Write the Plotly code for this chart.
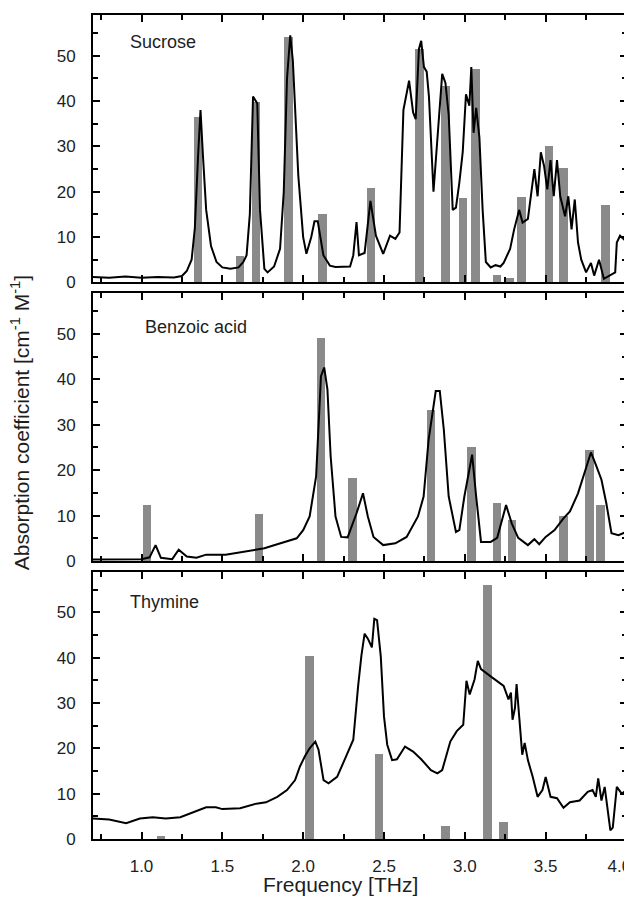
import plotly.graph_objects as go

# ---------------- data ----------------
sucrose_x = [0.70, 0.80, 0.90, 1.00, 1.10, 1.20, 1.25, 1.28, 1.31, 1.33, 1.35, 1.365, 1.38, 1.40, 1.43, 1.464,
             1.50, 1.55, 1.60, 1.63, 1.65, 1.67, 1.69, 1.716, 1.733, 1.76, 1.78, 1.82, 1.857, 1.88, 1.90, 1.92,
             1.936, 1.97, 2.00, 2.02, 2.05, 2.07, 2.09, 2.125, 2.165, 2.20, 2.29, 2.31, 2.33, 2.345, 2.38, 2.416,
             2.45, 2.495, 2.537, 2.57, 2.596, 2.62, 2.655, 2.68, 2.696, 2.716, 2.73, 2.747, 2.764, 2.778, 2.806,
             2.83, 2.86, 2.88, 2.90, 2.925, 2.945, 2.966, 2.987, 3.007, 3.028, 3.04, 3.054, 3.07, 3.09, 3.11,
             3.13, 3.16, 3.19, 3.22, 3.24, 3.28, 3.305, 3.336, 3.357, 3.39, 3.43, 3.45, 3.47, 3.49, 3.51, 3.53,
             3.55, 3.57, 3.59, 3.62, 3.64, 3.66, 3.68, 3.70, 3.72, 3.75, 3.78, 3.80, 3.83, 3.86, 3.90, 3.93,
             3.94, 3.96, 4.00]
sucrose_y = [1.2, 1.0, 1.3, 1.0, 1.2, 1.1, 1.4, 2.5, 5, 12, 28, 38, 28, 16, 8, 4.5,
             3.3, 3, 3.3, 4.5, 6, 15, 41, 39.5, 16, 3, 2.2, 3.5, 7.4, 20, 45, 54.5,
             49, 23.5, 10, 6.3, 10, 13.5, 13.5, 6, 3.7, 3.4, 3.5, 6, 13.3, 6, 6.5, 18,
             10.3, 6.3, 10.3, 9.6, 11, 38, 44.5, 37.5, 36, 51.5, 53.3, 47.5, 46.5, 41, 20,
             31, 46, 44, 37, 16, 16.5, 22, 28.8, 41.5, 39, 47.5, 33, 38.5, 32, 16,
             4.5, 3.3, 3.8, 3.5, 4.3, 7.4, 11.7, 16, 13.2, 14, 25, 19, 28.7, 25.7, 20.5, 27,
             19, 27, 19, 14.6, 19, 11.7, 18.3, 8.8, 5, 2.2, 4.3, 1.5, 5, 0.8, 1.5, 2.2,
             8.8, 10.3, 9]
sucrose_bar_x = [1.35, 1.61, 1.71, 1.91, 2.12, 2.42, 2.72, 2.88, 2.99, 3.065, 3.20, 3.28, 3.35, 3.52, 3.61, 3.87]
sucrose_bar_y = [36.5, 5.8, 39.8, 54.2, 15, 20.8, 51.4, 43.4, 18.6, 47, 1.6, 1.0, 18.8, 30, 25.2, 17]

benzoic_x = [0.70, 0.90, 1.00, 1.05, 1.087, 1.12, 1.19, 1.23, 1.28, 1.34, 1.40, 1.52, 1.65, 1.76, 1.86, 1.96,
             2.00, 2.04, 2.08, 2.10, 2.11, 2.13, 2.15, 2.17, 2.20, 2.235, 2.275, 2.33, 2.37, 2.40, 2.435, 2.495,
             2.57, 2.64, 2.71, 2.745, 2.776, 2.82, 2.845, 2.87, 2.90, 2.945, 2.966, 2.997, 3.045, 3.07, 3.10,
             3.16, 3.20, 3.255, 3.29, 3.33, 3.39, 3.43, 3.46, 3.50, 3.555, 3.61, 3.65, 3.70, 3.745, 3.78, 3.81,
             3.845, 3.875, 3.907, 3.95, 4.00]
benzoic_y = [0.3, 0.3, 0.4, 0.8, 3.5, 0.7, 0.4, 2.5, 1.0, 0.7, 1.4, 1.4, 2.1, 2.8, 3.9, 5,
             6.8, 9.8, 18.6, 32, 40.7, 42.6, 37.8, 23, 9.8, 5.3, 5.2, 10.5, 14.9, 9.8, 5.3, 3.5,
             3.9, 5.3, 9.8, 14.2, 26.7, 37.4, 37.4, 28.9, 14.2, 6.4, 6.8, 14.2, 23.4, 14.2, 4.2,
             4.2, 5.1, 12.3, 8.3, 5.1, 3.5, 4.8, 3.7, 5.3, 6.8, 9.4, 10.9, 14.9, 19.7, 23.9, 21.2,
             17.9, 12.7, 6.1, 5.7, 6.4]
benzoic_bar_x = [1.035, 1.725, 2.11, 2.305, 2.79, 3.04, 3.20, 3.29, 3.61, 3.77, 3.84]
benzoic_bar_y = [12.3, 10.4, 49.2, 18.3, 33.2, 25.1, 12.7, 9.0, 9.8, 24.5, 12.3]

thymine_x = [0.70, 0.80, 0.905, 0.99, 1.07, 1.15, 1.24, 1.32, 1.40, 1.46, 1.50, 1.61, 1.71, 1.77, 1.84, 1.90,
             1.95, 1.98, 2.01, 2.04, 2.075, 2.095, 2.126, 2.157, 2.21, 2.26, 2.31, 2.34, 2.36, 2.38, 2.40,
             2.425, 2.44, 2.457, 2.48, 2.50, 2.52, 2.55, 2.58, 2.63, 2.68, 2.73, 2.79, 2.83, 2.86, 2.91, 2.95,
             2.99, 3.01, 3.03, 3.06, 3.08, 3.10, 3.17, 3.20, 3.24, 3.27, 3.285, 3.295, 3.31, 3.32, 3.34, 3.355,
             3.37, 3.39, 3.42, 3.45, 3.48, 3.50, 3.53, 3.57, 3.61, 3.65, 3.71, 3.76, 3.79, 3.81, 3.825, 3.845,
             3.865, 3.886, 3.90, 3.915, 3.94, 3.97, 4.00]
thymine_y = [4.5, 4.3, 3.5, 4.5, 4.8, 4.5, 4.8, 5.9, 7.0, 7.0, 6.6, 6.8, 7.8, 8.1, 9.3, 10.8,
             13, 16, 18.2, 20, 21.5, 19.7, 13, 12.3, 13.7, 17.8, 21.9, 33.8, 40.4, 45.3, 44.2,
             42.3, 48.6, 48.3, 40.3, 27, 20.8, 17.4, 17.6, 20.4, 19.3, 17.6, 15.2, 14.5, 15.2, 21.5, 23.8,
             25.2, 34.9, 31.9, 35.2, 39.3, 37.5, 35.6, 34.9, 33.8, 30.8, 32.3, 26.3, 28.9, 34.2, 26.3, 18.6,
             21.2, 17.4, 13.7, 9.3, 10.8, 13.7, 9.3, 9.0, 6.9, 8.1, 8.5, 10.4, 10.8, 9.3, 13.4, 8.5,
             11.5, 6.3, 1.9, 2.5, 11.5, 10.0, 10.8]
thymine_bar_x = [1.12, 2.04, 2.47, 2.88, 3.14, 3.24]
thymine_bar_y = [0.8, 40.4, 18.8, 3.0, 56.2, 3.9]

sample_names = ["Sucrose", "Benzoic acid", "Thymine"]
x_tick_vals = [1.0, 1.5, 2.0, 2.5, 3.0, 3.5, 4.0]
# last label padded so it sits left of its tick, like the reference
x_tick_text = ["1.0", "1.5", "2.0", "2.5", "3.0", "3.5", "4.0\u00a0\u00a0\u00a0"]
y_tick_vals = [0, 10, 20, 30, 40, 50]

panels = [
    (sucrose_x, sucrose_y, sucrose_bar_x, sucrose_bar_y),
    (benzoic_x, benzoic_y, benzoic_bar_x, benzoic_bar_y),
    (thymine_x, thymine_y, thymine_bar_x, thymine_bar_y),
]

# ---------------- figure ----------------
FONT = "Liberation Sans, Arial, sans-serif"
TXT = "#1e1e1e"
BAR = "#8a8a8a"
domains = [[0.6755, 1.0], [0.3374, 0.6626], [0.0, 0.3245]]
label_pos = [(0.066, 0.967), (0.093, 0.621), (0.066, 0.2876)]

fig = go.Figure()
# page body adds an 8px offset, so the figure is 8px smaller than the window
layout = dict(
    width=624, height=898,
    margin=dict(l=85, r=5, t=7, b=67),
    paper_bgcolor="white", plot_bgcolor="white",
    showlegend=False,
    font=dict(family=FONT, size=17, color=TXT),
    bargap=0,
)
annotations = []
for i, (lx, ly, bx, by) in enumerate(panels):
    n = i + 1
    xa = "x" if n == 1 else f"x{n}"
    ya = "y" if n == 1 else f"y{n}"
    fig.add_trace(go.Bar(x=bx, y=by, width=0.052, marker=dict(color=BAR, line=dict(width=0)),
                         xaxis=xa, yaxis=ya))
    fig.add_trace(go.Scatter(x=lx, y=ly, mode="lines", line=dict(color="black", width=2),
                             xaxis=xa, yaxis=ya))
    common = dict(showline=True, linewidth=2, linecolor="black", mirror="allticks", automargin=False,
                  ticks="inside", tickwidth=2, tickcolor="black", showgrid=False, zeroline=False)
    layout[f"xaxis{'' if n == 1 else n}"] = dict(
        common, domain=[0, 1], range=[0.7, 4.003], anchor=ya,
        tickvals=x_tick_vals, ticktext=x_tick_text, ticklen=7,
        showticklabels=(n == 3), ticklabelstandoff=11, ticklabeloverflow="allow",
        minor=dict(ticks="inside", ticklen=5, tickwidth=1.5, tickcolor="black", dtick=0.25, tick0=0,
                   showgrid=False),
    )
    layout[f"yaxis{'' if n == 1 else n}"] = dict(
        common, domain=domains[i], range=[0, 59], anchor=xa,
        tickvals=y_tick_vals, ticklen=7, ticklabelstandoff=12,
        minor=dict(ticks="inside", ticklen=5, tickwidth=1.5, tickcolor="black", dtick=5, tick0=0,
                   showgrid=False),
    )
    annotations.append(dict(text=sample_names[i], x=label_pos[i][0], y=label_pos[i][1],
                            xref="paper", yref="paper", xanchor="left", yanchor="middle",
                            showarrow=False, font=dict(size=18, color=TXT, family=FONT)))

annotations.append(dict(text="Frequency [THz]", x=0.464, y=-0.0558, xref="paper", yref="paper",
                        xanchor="center", yanchor="middle", showarrow=False,
                        font=dict(size=21, color=TXT, family=FONT)))
annotations.append(dict(text="Absorption coefficient [cm<sup>-1</sup> M<sup>-1</sup>]",
                        x=-0.136, y=0.505, xref="paper", yref="paper", textangle=-90,
                        xanchor="center", yanchor="middle", showarrow=False,
                        font=dict(size=21, color=TXT, family=FONT)))
layout["annotations"] = annotations
fig.update_layout(**layout)

# keep the "4.0" label clipped at the window edge, as in the reference
clip_js = (
    "var gd = document.getElementById('{plot_id}');"
    "gd.style.overflow = 'hidden';"
    "document.documentElement.style.overflow = 'hidden';"
    "document.body.style.overflow = 'hidden';"
)
fig.write_html("out.html", post_script=clip_js)
